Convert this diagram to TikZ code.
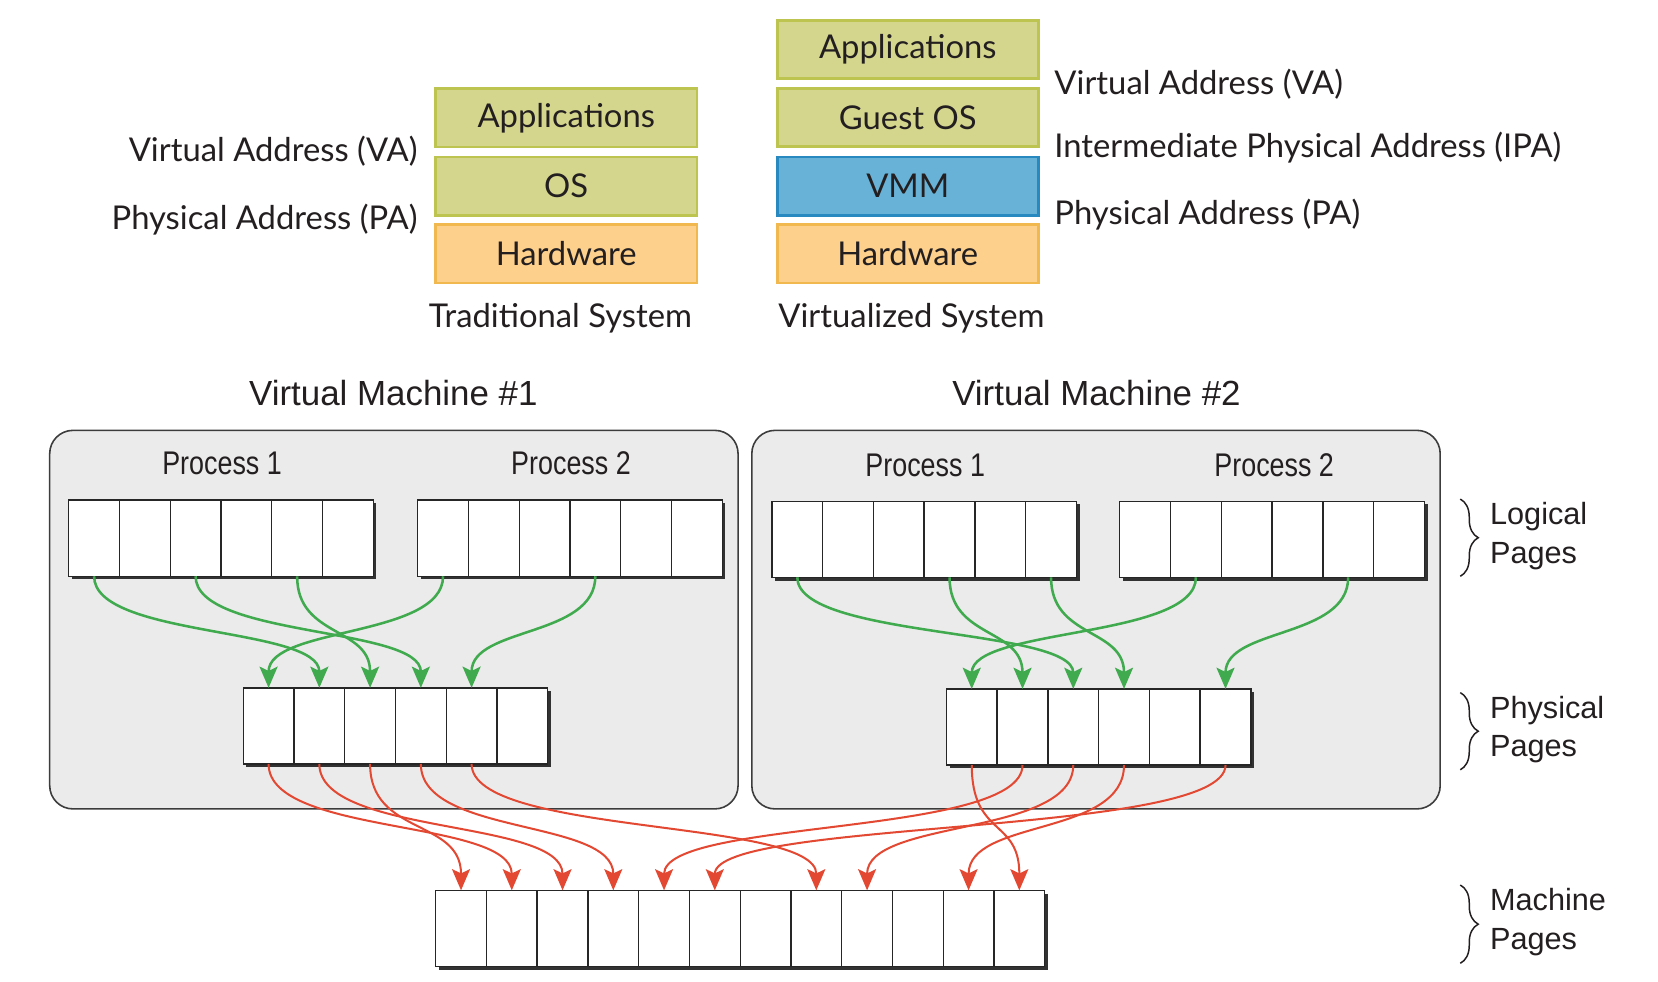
\documentclass[tikz,border=0pt]{standalone}
\usepackage{fontspec}
\setmainfont{Liberation Sans}
\newfontfamily\gillfont{Lato}
\newfontfamily\narrowfont[FakeStretch=0.82]{Liberation Sans}
\usetikzlibrary{arrows.meta,decorations.pathreplacing}
\definecolor{olivefill}{RGB}{212,214,142}
\definecolor{oliveline}{RGB}{190,196,80}
\definecolor{hwfill}{RGB}{253,208,140}
\definecolor{hwline}{RGB}{242,184,80}
\definecolor{vmmfill}{RGB}{104,178,216}
\definecolor{vmmline}{RGB}{40,136,192}
\definecolor{panelfill}{RGB}{235,235,235}
\definecolor{panelline}{RGB}{60,60,60}
\definecolor{gline}{RGB}{64,170,78}
\definecolor{rline}{RGB}{226,72,50}
\definecolor{txt}{RGB}{35,31,32}
\definecolor{shadowc}{RGB}{50,50,50}
\newcommand\pagerow[4]{%
  \fill[shadowc] ({#2+3},{#3-36+3}) rectangle ({#2+48*#4+3},{#3+36+3});
  \foreach \i in {1,...,#4} {\node[cellbox] (#1\i) at ({#2+48*\i-24},#3) {};}
}
\newcommand\greenlink[2]{\draw[garrow] (#1.south) .. controls +(0,58) and +(0,-58) .. (#2.north);}
\newcommand\redlink[2]{\draw[rarrow] (#1.south) .. controls +(0,68) and +(0,-68) .. (#2.north);}
\begin{document}
\begin{tikzpicture}[x=1pt,y=-1pt,
  layerbox/.style={draw, line width=2.5pt, minimum width=247pt, minimum height=55pt, inner sep=0pt,
    font=\gillfont\fontsize{31}{36}\selectfont, text=txt},
  olivebox/.style={layerbox, fill=olivefill, draw=oliveline},
  hwbox/.style={layerbox, fill=hwfill, draw=hwline},
  vmmbox/.style={layerbox, fill=vmmfill, draw=vmmline},
  toplabel/.style={inner sep=0pt, font=\gillfont\fontsize{31}{36}\selectfont, text=txt},
  panel/.style={draw=panelline, fill=panelfill, line width=1.5pt, rounded corners=22pt, inner sep=0pt},
  vmtitle/.style={inner sep=0pt, font=\fontsize{33}{38}\selectfont, text=txt},
  proclabel/.style={inner sep=0pt, font=\narrowfont\fontsize{31}{36}\selectfont, text=txt},
  sidelabel/.style={inner sep=0pt, align=left, anchor=west, font=\fontsize{29}{36}\selectfont, text=txt},
  cellbox/.style={draw=black!85, fill=white, line width=1.3pt, minimum width=48pt, minimum height=72pt, inner sep=0pt, outer sep=0pt},
  garrow/.style={draw=gline, line width=2.4pt, -{Stealth[length=20pt,width=17pt,inset=4pt]}},
  rarrow/.style={draw=rline, line width=1.9pt, -{Stealth[length=20pt,width=17pt,inset=4pt]}},
  bracestyle/.style={draw=txt, line width=1.4pt, decorate, decoration={brace, amplitude=17pt}}
]
\useasboundingbox (0,0) rectangle (1568,928);
\fill[white] (0,0) rectangle (1568,928);

% ---------- top: traditional system ----------
\node[olivebox] (tapp) at (535.5,111.5) {Applications};
\node[olivebox] (tos)  at (535.5,176) {OS};
\node[hwbox]    (thw)  at (535.5,240) {Hardware};
\node[toplabel] (tcap) at (530,301) {Traditional System};
\node[toplabel, anchor=east] (tva) at (395,143) {Virtual Address (VA)};
\node[toplabel, anchor=east] (tpa) at (395,208) {Physical Address (PA)};

% ---------- top: virtualized system ----------
\node[olivebox] (vapp) at (858.5,47) {Applications};
\node[olivebox] (vgos) at (858.5,111) {Guest OS};
\node[vmmbox]   (vvmm) at (858.5,176) {VMM};
\node[hwbox]    (vhw)  at (858.5,240) {Hardware};
\node[toplabel] (vcap) at (862,301) {Virtualized System};
\node[toplabel, anchor=west] (vva)  at (997,80)  {Virtual Address (VA)};
\node[toplabel, anchor=west] (vipa) at (997,140) {Intermediate Physical Address (IPA)};
\node[toplabel, anchor=west] (vpa)  at (997,203) {Physical Address (PA)};

% ---------- bottom: virtual machines ----------
\node[vmtitle] (vm1t) at (372,372) {Virtual Machine \#1};
\node[vmtitle] (vm2t) at (1037,372) {Virtual Machine \#2};
\node[panel, minimum width=651pt, minimum height=358pt] (vm1) at (372.5,586) {};
\node[panel, minimum width=651pt, minimum height=358pt] (vm2) at (1036.5,586) {};

\node[proclabel] (v1p1t) at (210,438) {Process 1};
\node[proclabel] (v1p2t) at (540,438) {Process 2};
\node[proclabel] (v2p1t) at (875,440) {Process 1};
\node[proclabel] (v2p2t) at (1205,440) {Process 2};

\pagerow{va}{65}{509}{6}
\pagerow{vb}{395}{509}{6}
\pagerow{vp}{230}{686.5}{6}
\pagerow{wa}{730}{510}{6}
\pagerow{wb}{1059}{510}{6}
\pagerow{wp}{895}{687.5}{6}
\pagerow{mp}{412}{878}{12}

% green: logical -> physical
\greenlink{va1}{vp2}
\greenlink{va3}{vp4}
\greenlink{va5}{vp3}
\greenlink{vb1}{vp1}
\greenlink{vb4}{vp5}
\greenlink{wa1}{wp3}
\greenlink{wa4}{wp2}
\greenlink{wa6}{wp4}
\greenlink{wb2}{wp1}
\greenlink{wb5}{wp6}

% red: physical -> machine
\redlink{vp1}{mp2}
\redlink{vp2}{mp3}
\redlink{vp3}{mp1}
\redlink{vp4}{mp4}
\redlink{vp5}{mp8}
\redlink{wp1}{mp12}
\redlink{wp2}{mp5}
\redlink{wp3}{mp9}
\redlink{wp4}{mp11}
\redlink{wp6}{mp6}

% braces and side labels
\draw[bracestyle] (1381,472) -- (1381,545);
\draw[bracestyle] (1381,655) -- (1381,728);
\draw[bracestyle] (1381,837) -- (1381,911);
\node[sidelabel] (lpl) at (1409,507) {Logical\\Pages};
\node[sidelabel] (ppl) at (1409,690) {Physical\\Pages};
\node[sidelabel] (mpl) at (1409,872) {Machine\\Pages};
\end{tikzpicture}
\end{document}
